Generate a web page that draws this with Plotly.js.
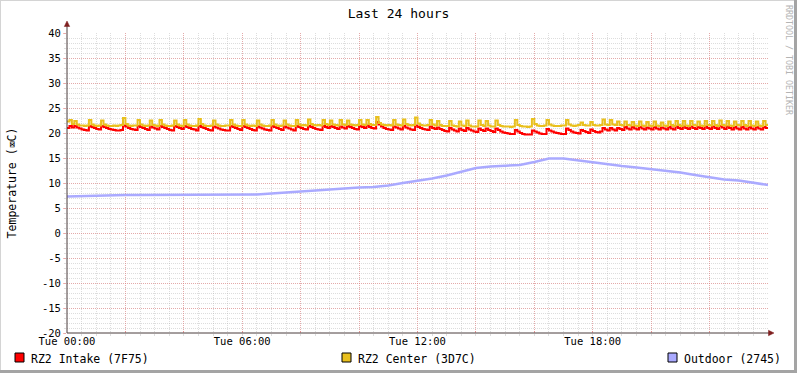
<!DOCTYPE html>
<html>
<head>
<meta charset="utf-8">
<script src="https://cdn.plot.ly/plotly-3.0.1.min.js"></script>
<style>html,body{margin:0;padding:0;background:#fff;}#chart{width:797px;height:373px;}</style>
</head>
<body>
<div id="chart"></div>
<script>
// ---- data ----
const chartTitle = 'Last 24 hours';
const yAxisTitle = 'Temperature (\u2327C)';
const seriesNames = ['RZ2 Intake (7F75)', 'RZ2 Center (3D7C)', 'Outdoor (2745)'];
const seriesColors = ['#FF0000', '#E9C01E', '#AAAAFF'];
const startTime = '2024-01-02 00:00';   // a Tuesday
const endTime = '2024-01-03 00:00';
const fastStepMin = 5;    // Intake / Center sample step (minutes)
const slowStepMin = 30;   // Outdoor sample step (minutes)
const xTickHours = [0, 2, 4, 6, 8, 10, 12, 14, 16, 18, 20, 22, 24];
const xTickLabels = ['Tue 00:00', '', '', 'Tue 06:00', '', '', 'Tue 12:00', '', '', 'Tue 18:00', '', '', ''];
const yTickValues = [40, 35, 30, 25, 20, 15, 10, 5, 0, -5, -10, -15, -20];

// RZ2 Intake, one row per hour (5-minute samples)
const intakeValues = [
 21.0,21.4,21.1,21.4,21.1,20.9,20.7,20.6,20.5,21.4,21.2,21.0,
 20.8,20.7,21.4,21.2,21.0,20.8,20.7,20.6,20.5,20.5,20.6,21.5,
 21.3,21.0,20.8,20.7,20.6,21.4,21.2,21.0,20.8,20.6,21.3,21.1,
 20.9,20.7,21.4,21.2,21.0,20.8,20.6,20.5,21.4,21.2,21.0,20.8,
 21.4,21.2,21.0,20.8,20.7,20.5,21.4,21.2,21.0,20.8,20.6,20.5,
 21.3,21.1,20.9,20.7,20.6,20.5,20.5,21.4,21.2,21.0,20.8,20.6,
 21.4,21.2,21.0,20.8,20.6,20.5,21.3,21.1,20.9,20.7,20.6,20.5,
 21.4,21.2,21.0,20.8,20.6,21.3,21.1,20.9,20.7,20.5,21.4,21.2,
 21.0,20.8,20.7,21.4,21.2,21.0,20.8,20.7,20.6,21.4,21.2,21.0,
 21.4,21.2,21.0,20.8,21.3,21.1,20.9,21.4,21.2,21.0,20.8,20.7,
 21.4,21.2,21.0,21.5,21.2,21.0,20.9,22.2,21.7,21.3,21.0,20.8,
 20.7,20.6,21.3,21.1,20.9,20.7,21.4,21.1,20.9,20.7,20.6,21.5,
 21.2,21.0,20.8,20.7,20.6,21.3,21.0,20.8,21.1,20.8,20.6,20.4,
 20.3,21.0,20.7,20.5,20.3,20.9,20.6,20.4,21.0,20.7,20.5,20.3,
 20.2,20.9,20.6,20.4,20.9,20.6,20.4,20.2,20.9,20.6,20.3,20.1,
 20.0,19.9,19.8,19.8,20.6,20.3,20.0,19.8,19.7,19.7,19.7,20.5,
 20.3,20.1,19.9,19.8,19.8,20.8,20.5,20.3,20.1,20.0,19.9,19.8,
 19.8,20.9,20.6,20.3,20.1,20.0,19.9,20.6,20.4,20.2,20.0,20.7,
 20.4,20.2,20.1,20.3,21.0,20.7,20.5,21.0,20.7,20.5,21.0,20.8,
 20.6,21.2,20.9,20.7,21.2,20.9,20.7,21.2,20.9,20.7,21.1,20.9,
 20.7,21.2,20.9,20.7,21.1,20.9,20.7,21.2,20.9,20.7,21.3,21.0,
 20.8,21.3,21.0,20.8,21.3,21.0,20.8,21.2,21.0,20.8,21.3,21.0,
 20.8,21.3,21.0,20.8,21.4,21.1,20.8,21.3,21.0,20.7,21.2,20.9,
 20.7,21.2,20.9,20.7,21.2,20.9,20.7,21.2,20.9,20.7,21.2,21.0,
 20.9
];

// RZ2 Center, one row per hour (5-minute samples)
const centerValues = [
 22.3,22.6,21.8,22.4,21.7,21.5,21.5,21.4,21.5,22.6,21.7,21.5,
 21.4,21.5,22.5,21.7,21.5,21.4,21.4,21.5,21.4,21.5,21.6,23.0,
 21.8,21.5,21.4,21.5,21.5,22.6,21.7,21.5,21.4,21.5,22.5,21.6,
 21.5,21.4,22.6,21.7,21.5,21.4,21.4,21.5,22.5,21.7,21.5,21.4,
 22.6,21.7,21.5,21.4,21.4,21.5,22.8,21.8,21.5,21.4,21.4,21.5,
 22.5,21.7,21.5,21.4,21.4,21.5,21.5,22.6,21.7,21.5,21.4,21.4,
 22.6,21.7,21.5,21.4,21.5,21.4,22.5,21.7,21.5,21.4,21.4,21.5,
 22.6,21.7,21.5,21.4,21.5,22.5,21.7,21.5,21.4,21.4,22.6,21.7,
 21.5,21.6,21.5,22.7,21.8,21.6,21.5,21.6,21.5,22.6,21.8,21.6,
 22.5,21.7,21.6,21.5,22.6,21.7,21.6,22.5,21.7,21.6,21.5,21.6,
 22.6,21.7,21.6,22.6,21.8,21.6,21.6,23.2,22.0,21.7,21.6,21.5,
 21.6,21.5,22.6,21.7,21.6,21.5,22.7,21.8,21.6,21.5,21.6,23.1,
 21.9,21.6,21.5,21.5,21.6,22.6,21.7,21.5,22.4,21.6,21.4,21.4,
 21.4,22.4,21.5,21.4,21.3,22.3,21.5,21.4,22.5,21.5,21.3,21.3,
 21.3,22.5,21.6,21.4,22.4,21.5,21.3,21.3,22.5,21.6,21.4,21.3,
 21.3,21.3,21.2,21.3,22.6,21.6,21.4,21.3,21.3,21.2,21.3,22.8,
 21.8,21.5,21.4,21.4,21.5,22.6,21.7,21.5,21.4,21.4,21.4,21.5,
 21.5,22.6,21.7,21.5,21.4,21.5,21.6,22.1,21.6,21.5,21.5,22.2,
 21.6,21.5,21.5,21.6,22.7,21.7,21.6,22.6,21.7,21.6,22.3,21.6,
 21.5,22.3,21.6,21.5,22.2,21.5,21.4,22.3,21.5,21.4,22.2,21.5,
 21.4,22.3,21.5,21.4,22.1,21.5,21.4,22.3,21.6,21.4,22.4,21.6,
 21.4,22.4,21.5,21.4,22.4,21.6,21.5,22.3,21.5,21.4,22.4,21.6,
 21.5,22.4,21.6,21.4,22.5,21.6,21.5,22.4,21.5,21.4,22.3,21.6,
 21.5,22.4,21.6,21.4,22.4,21.5,21.4,22.3,21.5,21.4,22.4,21.6,
 21.5
];

// Outdoor, 30-minute samples
const outdoorValues = [
 7.3,7.4,7.5,7.5,7.6,7.6,7.6,7.6,7.6,7.6,7.6,7.6,
 7.7,7.7,7.9,8.1,8.3,8.5,8.7,9.0,9.1,9.2,9.5,10.0,
 10.4,10.9,11.5,12.3,13.0,13.3,13.5,13.6,14.2,14.9,14.9,14.5,
 14.1,13.7,13.4,13.1,12.8,12.5,12.1,11.6,11.1,10.7,10.5,10.1,
 9.6
];

// ---- build ----
const t0 = new Date(startTime.replace(' ', 'T') + ':00Z').getTime();
function fmt(ms) { return new Date(ms).toISOString().slice(0, 19).replace('T', ' '); }
function timesFor(n, stepMin) { const a = []; for (let i = 0; i < n; i++) a.push(fmt(t0 + i * stepMin * 60000)); return a; }

const traces = [
  { x: timesFor(intakeValues.length, fastStepMin), y: intakeValues, name: seriesNames[0], type: 'scatter', mode: 'lines',
    line: { color: seriesColors[0], width: 2, shape: 'hv' }, hoverinfo: 'skip' },
  { x: timesFor(centerValues.length, fastStepMin), y: centerValues, name: seriesNames[1], type: 'scatter', mode: 'lines',
    line: { color: seriesColors[1], width: 2, shape: 'hv' }, hoverinfo: 'skip' },
  { x: timesFor(outdoorValues.length, slowStepMin), y: outdoorValues, name: seriesNames[2], type: 'scatter', mode: 'lines',
    line: { color: seriesColors[2], width: 2.5 }, hoverinfo: 'skip' }
];

// plot-area pixel geometry
const W = 797, H = 373, L = 67, R = 768, T = 33, B = 333;
const px = v => (v - L) / (R - L);
const py = v => (B - v) / (B - T);

const mono = 'DejaVu Sans Mono, Liberation Mono, monospace';
const majorGrid = 'rgba(235,120,120,0.5)';
const minorGrid = 'rgba(175,175,175,0.42)';
const axisCol = '#4a3c3c';
const arrowCol = '#7F1F1F';

const shapes = [];
const annotations = [];

// frame: thin light border top/left, darker shade right/bottom
shapes.push({ type: 'rect', xref: 'paper', yref: 'paper', x0: px(0), x1: px(1), y0: py(H), y1: py(0), line: { width: 0 }, fillcolor: '#d4d4d4' });
shapes.push({ type: 'rect', xref: 'paper', yref: 'paper', x0: px(0), x1: px(W), y0: py(1), y1: py(0), line: { width: 0 }, fillcolor: '#d4d4d4' });
shapes.push({ type: 'rect', xref: 'paper', yref: 'paper', x0: px(W - 3), x1: px(W), y0: py(H), y1: py(0), line: { width: 0 }, fillcolor: '#a4a4a4' });
shapes.push({ type: 'rect', xref: 'paper', yref: 'paper', x0: px(0), x1: px(W), y0: py(H), y1: py(H - 3), line: { width: 0 }, fillcolor: '#a4a4a4' });

// axis lines and arrows
shapes.push({ type: 'line', xref: 'paper', yref: 'paper', x0: px(L), x1: px(L), y0: py(B), y1: py(25), line: { color: axisCol, width: 1 } });
shapes.push({ type: 'path', xref: 'paper', yref: 'paper',
  path: `M ${px(L)} ${py(21)} L ${px(L - 2.7)} ${py(26.5)} L ${px(L + 2.7)} ${py(26.5)} Z`, fillcolor: arrowCol, line: { color: arrowCol, width: 0.5 } });
shapes.push({ type: 'line', xref: 'paper', yref: 'paper', x0: px(L), x1: px(769), y0: py(B), y1: py(B), line: { color: axisCol, width: 1 } });
shapes.push({ type: 'path', xref: 'paper', yref: 'paper',
  path: `M ${px(774)} ${py(B)} L ${px(768.5)} ${py(B - 2.7)} L ${px(768.5)} ${py(B + 2.7)} Z`, fillcolor: arrowCol, line: { color: arrowCol, width: 0.5 } });

// legend (rrdtool style: boxes + text along the bottom)
const legendBoxX = [15, 342, 668];
seriesNames.forEach((name, i) => {
  shapes.push({ type: 'rect', xref: 'paper', yref: 'paper',
    x0: px(legendBoxX[i]), x1: px(legendBoxX[i] + 9), y0: py(362), y1: py(353),
    fillcolor: seriesColors[i], line: { color: '#000', width: 1 } });
  annotations.push({ xref: 'paper', yref: 'paper', x: px(legendBoxX[i] + 14), y: py(358.5), xanchor: 'left', yanchor: 'middle',
    text: name, showarrow: false, font: { family: mono, size: 11.5, color: '#000' } });
});

// watermark
annotations.push({ xref: 'paper', yref: 'paper', x: px(789), y: py(60), xanchor: 'center', yanchor: 'middle',
  text: 'RRDTOOL / TOBI OETIKER', textangle: 90, showarrow: false, font: { family: mono, size: 8.3, color: '#b4b4b4' } });

const xTickVals = xTickHours.map(h => fmt(t0 + h * 3600000));

const layout = {
  width: W, height: H,
  margin: { l: L, r: W - R, t: T, b: H - B, pad: 0 },
  paper_bgcolor: '#ffffff', plot_bgcolor: '#ffffff',
  showlegend: false,
  title: { text: chartTitle, font: { family: mono, size: 13, color: '#000' }, x: 0.5, xref: 'container', xanchor: 'center', y: 1 - 13 / H, yref: 'container', yanchor: 'middle' },
  xaxis: {
    type: 'date', range: [startTime, endTime], autorange: false,
    tickmode: 'array', tickvals: xTickVals, ticktext: xTickLabels,
    showgrid: true, gridcolor: majorGrid, gridwidth: 1, griddash: '1px,1px',
    ticks: 'inside', ticklen: 2, tickcolor: majorGrid, tickwidth: 1,
    tickfont: { family: mono, size: 10.5, color: '#000' },
    showline: false, zeroline: false, fixedrange: true,
    minor: { tickmode: 'linear', tick0: startTime, dtick: 30 * 60000, showgrid: true, gridcolor: minorGrid, griddash: '1px,1px', gridwidth: 1, ticks: 'outside', ticklen: 2, tickcolor: minorGrid }
  },
  yaxis: {
    range: [-20, 40], autorange: false,
    tickmode: 'array', tickvals: yTickValues, ticktext: yTickValues.map(String),
    showgrid: true, gridcolor: majorGrid, gridwidth: 1, griddash: '1px,1px',
    ticks: 'outside', ticklen: 3, tickcolor: majorGrid, tickwidth: 1,
    tickfont: { family: mono, size: 10.5, color: '#000' },
    showline: false, zeroline: false, fixedrange: true,
    title: { text: yAxisTitle, font: { family: mono, size: 11.5, color: '#000' }, standoff: 22 },
    minor: { tickmode: 'linear', tick0: 0, dtick: 1, showgrid: true, gridcolor: minorGrid, griddash: '1px,1px', gridwidth: 1, ticks: 'outside', ticklen: 2, tickcolor: minorGrid }
  },
  shapes: shapes,
  annotations: annotations
};

Plotly.newPlot('chart', traces, layout, { staticPlot: true, displayModeBar: false });
</script>
</body>
</html>
